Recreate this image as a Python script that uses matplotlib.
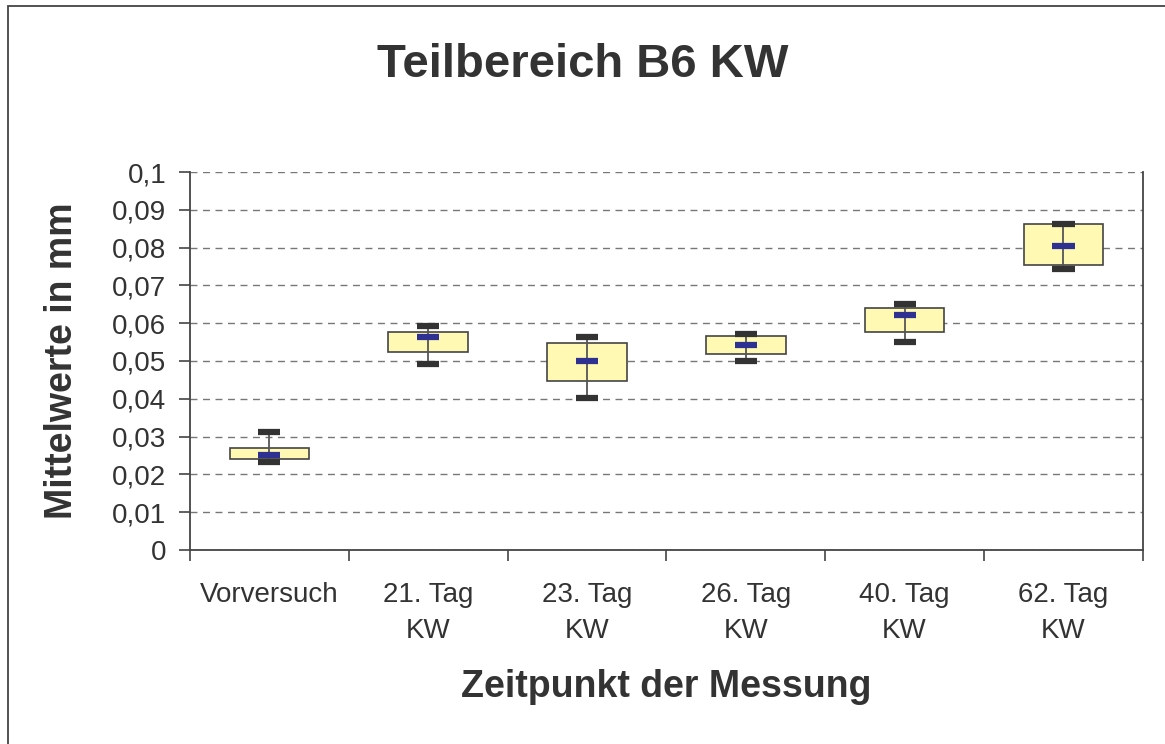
import matplotlib.pyplot as plt
import numpy as np
from matplotlib.ticker import FuncFormatter, FixedLocator
from matplotlib.patches import Rectangle

plt.rcParams['font.family'] = ['Liberation Sans', 'DejaVu Sans']

kategorien = ["Vorversuch", "21. Tag\nKW", "23. Tag\nKW", "26. Tag\nKW", "40. Tag\nKW", "62. Tag\nKW"]

# Werte (mm)
maximum = [0.0312, 0.0593, 0.0563, 0.0572, 0.0652, 0.0863]
q3 = [0.0271, 0.0576, 0.0548, 0.0565, 0.0641, 0.0862]
mittel = [0.0251, 0.0563, 0.0500, 0.0542, 0.0623, 0.0804]
q1 = [0.0241, 0.0523, 0.0447, 0.0519, 0.0578, 0.0754]
minimum = [0.0233, 0.0492, 0.0402, 0.0501, 0.0551, 0.0743]

fig = plt.figure(figsize=(11.65, 7.44), dpi=100)
ax = fig.add_axes([0.163, 0.2608, 0.818, 0.508])

x = np.arange(len(kategorien))

# Boxen
ax.bar(x, np.array(q3) - np.array(q1), bottom=q1, width=0.5,
       color='#fff9b4', edgecolor='#444444', linewidth=1.2, zorder=3)
# Whisker
ax.vlines(x, minimum, maximum, color='#555555', linewidth=1.3, zorder=4)
# Kappen
ax.hlines(maximum, x - 0.07, x + 0.07, color='#333333', linewidth=4.5, zorder=5)
ax.hlines(minimum, x - 0.07, x + 0.07, color='#333333', linewidth=4.5, zorder=5)
# Mittelwert
ax.hlines(mittel, x - 0.07, x + 0.07, color='#2e3192', linewidth=4.5, zorder=6)

ax.set_xlim(-0.5, len(kategorien) - 0.5)
ax.set_ylim(0, 0.1)
ax.set_yticks(np.arange(0, 0.1001, 0.01))
ax.yaxis.set_major_formatter(FuncFormatter(lambda v, p: ('%g' % round(v, 3)).replace('.', ',')))

ax.set_xticks(x)
ax.set_xticklabels(kategorien, fontsize=20, color='#333333', linespacing=1.5)
ax.xaxis.set_minor_locator(FixedLocator(np.arange(-0.5, len(kategorien), 1.0)))
ax.tick_params(axis='x', which='major', length=0, pad=23)
ax.tick_params(axis='x', which='minor', length=8, width=1.2, color='#444444')
ax.tick_params(axis='y', length=8, width=1.2, color='#444444', labelsize=20, labelcolor='#333333', pad=9)

ax.yaxis.grid(True, linestyle=(0, (5, 4)), color='#777777', linewidth=1.0, zorder=0)
ax.set_axisbelow(True)
ax.spines['top'].set_visible(False)
for s in ['left', 'bottom', 'right']:
    ax.spines[s].set_color('#444444')
    ax.spines[s].set_linewidth(1.3)

ax.set_xlabel('Zeitpunkt der Messung', fontsize=27, fontweight='bold', color='#333333', labelpad=18)
ax.set_ylabel('Mittelwerte in mm', fontsize=27, fontweight='bold', color='#333333', labelpad=23)
fig.text(0.5, 0.913, 'Teilbereich B6 KW', fontsize=34, fontweight='bold', color='#333333',
         ha='center', va='center')

# Rahmen um das Diagramm
fig.patches.append(Rectangle((8 / 1165, -0.1), 1.2, 1 - 6 / 744 + 0.1, transform=fig.transFigure,
                             fill=False, edgecolor='#444444', linewidth=1.3))

fig.savefig('out.png', dpi=100)
